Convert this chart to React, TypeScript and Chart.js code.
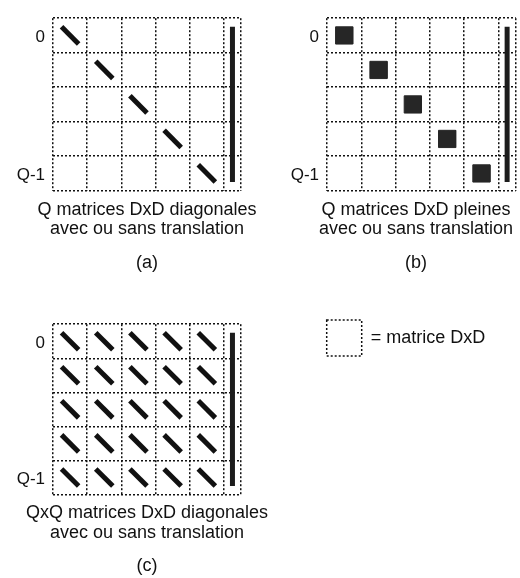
import React, { useEffect, useRef } from "react";
import { Chart, registerables } from "chart.js";

Chart.register(...registerables);

// ---- data ----
const ROW_LABELS = ["0", "", "", "", "Q-1"]; // block row tick labels
const Q = ROW_LABELS.length; // number of DxD blocks per side

// [row, col] of each DxD block that holds a diagonal matrix (a)
const DIAG_A: number[][] = [[0, 0], [1, 1], [2, 2], [3, 3], [4, 4]];
// [row, col] of each full DxD block (b)
const FULL_B: number[][] = [[0, 0], [1, 1], [2, 2], [3, 3], [4, 4]];
// [row, col] of each diagonal DxD block (c): every block
const DIAG_C: number[][] = [
  [0, 0], [0, 1], [0, 2], [0, 3], [0, 4],
  [1, 0], [1, 1], [1, 2], [1, 3], [1, 4],
  [2, 0], [2, 1], [2, 2], [2, 3], [2, 4],
  [3, 0], [3, 1], [3, 2], [3, 3], [3, 4],
  [4, 0], [4, 1], [4, 2], [4, 3], [4, 4],
];
// translation vector spans block rows first..last
const VECTOR_ROWS = [0, 4];

const CAPTION_A = ["Q matrices DxD diagonales", "avec ou sans translation"];
const CAPTION_B = ["Q matrices DxD pleines", "avec ou sans translation"];
const CAPTION_C = ["QxQ matrices DxD diagonales", "avec ou sans translation"];
const TAGS = ["(a)", "(b)", "(c)"];
const LEGEND_TEXT = "= matrice DxD";

// ---- style ----
const FONT = "'Liberation Sans', Arial, Helvetica, sans-serif";
const INK = "#111111";
const BLOCK_FILL = "#262626";
const INSET = 0.25;
const DOTS = [2, 2];

interface PanelSpec {
  left: number;
  top: number;
  width: number;
  height: number;
  axisWidth: number;
  rightWidth: number;
  padTop: number;
  padBottom: number;
  diag: number[][];
  full: number[][];
  caption: string[];
  tag: string;
}

function buildDatasets(spec: PanelSpec) {
  const ds: any[] = [];
  spec.diag.forEach(([r, c]) => {
    ds.push({
      data: [
        { x: c + INSET, y: r + INSET },
        { x: c + 1 - INSET, y: r + 1 - INSET },
      ],
      borderColor: INK,
      borderWidth: 5,
      borderCapStyle: "butt",
      pointRadius: 0,
      fill: false,
    });
  });
  spec.full.forEach(([r, c]) => {
    ds.push({
      data: [
        { x: c + INSET, y: r + INSET },
        { x: c + 1 - INSET, y: r + INSET },
        { x: c + 1 - INSET, y: r + 1 - INSET },
        { x: c + INSET, y: r + 1 - INSET },
        { x: c + INSET, y: r + INSET },
      ],
      borderColor: BLOCK_FILL,
      backgroundColor: BLOCK_FILL,
      borderWidth: 1,
      pointRadius: 0,
      fill: "shape",
    });
  });
  ds.push({
    data: [
      { x: Q + 0.25, y: VECTOR_ROWS[0] + INSET },
      { x: Q + 0.25, y: VECTOR_ROWS[1] + 1 - INSET },
    ],
    borderColor: "#1c1c1c",
    borderWidth: 5,
    borderCapStyle: "butt",
    pointRadius: 0,
    fill: false,
  });
  return ds;
}

function MatrixPanel({ spec }: { spec: PanelSpec }) {
  const ref = useRef<HTMLCanvasElement>(null);
  useEffect(() => {
    const colTicks = [...ROW_LABELS.map((_, i) => i), Q, Q + 0.5];
    const rowTicks = [...ROW_LABELS.map((_, i) => i), Q];
    const rowCenters = ROW_LABELS.map((_, i) => i + 0.5);
    const gridOpts = { color: INK, lineWidth: 1.5, drawTicks: false };
    const captionFont = { family: FONT, size: 18, weight: "normal", lineHeight: 1.1 };
    const chart = new Chart(ref.current as HTMLCanvasElement, {
      type: "line",
      data: { datasets: buildDatasets(spec) },
      options: {
        animation: false,
        responsive: false,
        maintainAspectRatio: false,
        devicePixelRatio: 1,
        layout: {
          padding: { left: 0, top: spec.padTop, right: 0, bottom: spec.padBottom },
        },
        scales: {
          x: {
            type: "linear",
            position: "bottom",
            min: 0,
            max: Q + 0.5,
            grid: gridOpts,
            border: { display: false, dash: DOTS },
            ticks: { display: false },
            afterBuildTicks: (s: any) => {
              s.ticks = colTicks.map((v) => ({ value: v }));
            },
          },
          y: {
            type: "linear",
            position: "left",
            min: 0,
            max: Q,
            reverse: true,
            grid: gridOpts,
            border: { display: false, dash: DOTS },
            ticks: { display: false },
            afterBuildTicks: (s: any) => {
              s.ticks = rowTicks.map((v) => ({ value: v }));
            },
          },
          yLab: {
            type: "linear",
            position: "left",
            min: 0,
            max: Q,
            reverse: true,
            grid: { display: false, drawTicks: false },
            border: { display: false },
            ticks: {
              autoSkip: false,
              padding: 8,
              labelOffset: 2,
              color: INK,
              font: { family: FONT, size: 17 },
              callback: (_v: any, i: number) => ROW_LABELS[i],
            },
            afterBuildTicks: (s: any) => {
              s.ticks = rowCenters.map((v) => ({ value: v }));
            },
            afterFit: (s: any) => {
              s.width = spec.axisWidth;
            },
          },
          yRight: {
            type: "linear",
            position: "right",
            min: 0,
            max: Q,
            grid: { display: false, drawTicks: false },
            border: { display: false },
            ticks: { display: false },
            afterFit: (s: any) => {
              s.width = spec.rightWidth;
            },
          },
        },
        plugins: {
          legend: { display: false },
          tooltip: { enabled: false },
          subtitle: {
            display: true,
            position: "bottom",
            fullSize: true,
            text: spec.caption,
            color: INK,
            font: captionFont,
            padding: { top: 9, bottom: 7 },
          },
          title: {
            display: true,
            position: "bottom",
            fullSize: true,
            text: spec.tag,
            color: INK,
            font: captionFont,
            padding: { top: 6.5, bottom: 0 },
          },
        },
      } as any,
    });
    return () => chart.destroy();
  }, []);
  return (
    <canvas
      ref={ref}
      width={spec.width}
      height={spec.height}
      style={{
        position: "absolute",
        left: spec.left,
        top: spec.top,
        width: spec.width,
        height: spec.height,
      }}
    />
  );
}

function LegendPanel() {
  const ref = useRef<HTMLCanvasElement>(null);
  useEffect(() => {
    const chart = new Chart(ref.current as HTMLCanvasElement, {
      type: "line",
      data: {
        datasets: [
          {
            label: LEGEND_TEXT,
            data: [],
            borderColor: INK,
            backgroundColor: "#ffffff",
            borderWidth: 1.5,
            borderDash: DOTS,
          },
        ],
      },
      options: {
        animation: false,
        responsive: false,
        maintainAspectRatio: false,
        devicePixelRatio: 1,
        layout: { padding: { left: 16.7, top: 10, right: 0, bottom: 0 } },
        scales: { x: { display: false }, y: { display: false } },
        plugins: {
          tooltip: { enabled: false },
          legend: {
            display: true,
            position: "top",
            align: "start",
            labels: {
              boxWidth: 35,
              boxHeight: 36,
              padding: 10,
              color: INK,
              font: { family: FONT, size: 18 },
              generateLabels: (c: any) =>
                c.data.datasets.map((d: any, i: number) => ({
                  text: d.label,
                  fillStyle: d.backgroundColor,
                  strokeStyle: d.borderColor,
                  lineWidth: d.borderWidth,
                  lineDash: d.borderDash,
                  fontColor: INK,
                  hidden: false,
                  datasetIndex: i,
                })),
            },
          },
        },
      } as any,
    });
    return () => chart.destroy();
  }, []);
  return (
    <canvas
      ref={ref}
      width={220}
      height={200}
      style={{ position: "absolute", left: 300, top: 300, width: 220, height: 200 }}
    />
  );
}

const PANELS: PanelSpec[] = [
  {
    left: 0, top: 0, width: 294, height: 280,
    axisWidth: 53, rightWidth: 53, padTop: 15, padBottom: 7.4,
    diag: DIAG_A, full: [], caption: CAPTION_A, tag: TAGS[0],
  },
  {
    left: 260, top: 0, width: 312, height: 280,
    axisWidth: 67, rightWidth: 56.3, padTop: 15, padBottom: 7.4,
    diag: [], full: FULL_B, caption: CAPTION_B, tag: TAGS[1],
  },
  {
    left: 0, top: 306, width: 294, height: 272,
    axisWidth: 53, rightWidth: 53, padTop: 15, padBottom: 1.6,
    diag: DIAG_C, full: [], caption: CAPTION_C, tag: TAGS[2],
  },
];

export default function App() {
  return (
    <div
      style={{
        position: "absolute",
        left: 0,
        top: 0,
        width: 520,
        height: 578,
        background: "#ffffff",
        overflow: "hidden",
      }}
    >
      {PANELS.map((p, i) => (
        <MatrixPanel key={i} spec={p} />
      ))}
      <LegendPanel />
    </div>
  );
}
